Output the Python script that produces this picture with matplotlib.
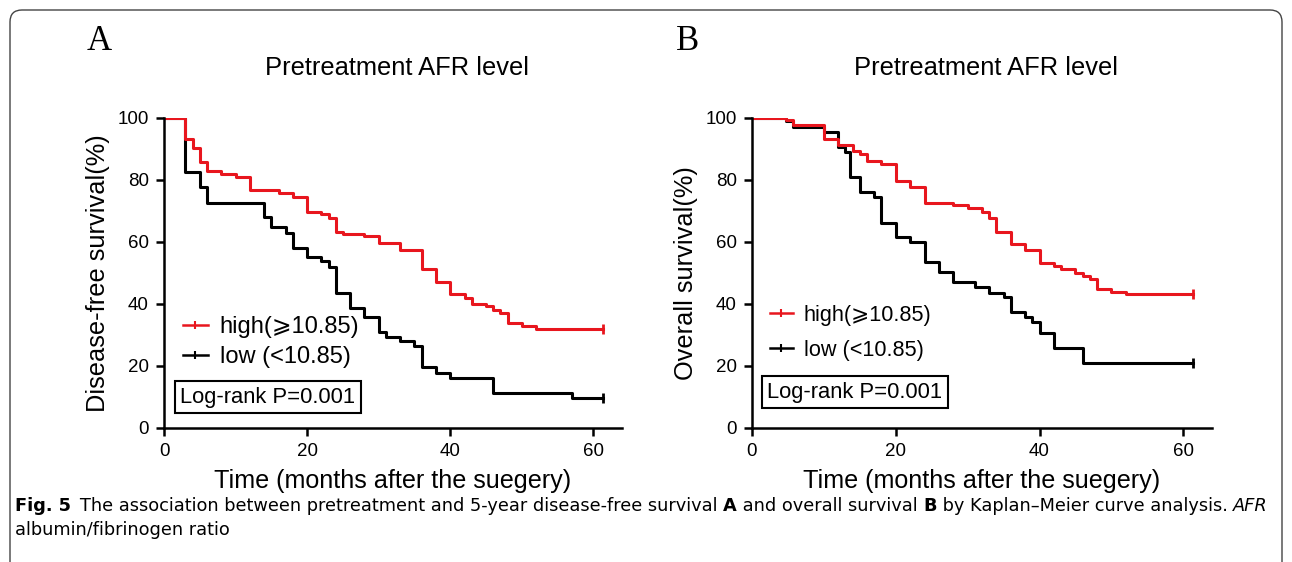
import numpy as np
import matplotlib.pyplot as plt
from matplotlib.lines import Line2D
from matplotlib.patches import FancyBboxPatch
from matplotlib.transforms import IdentityTransform

# Kaplan-Meier steps (months, survival %)
dfs_high_t = [0, 3, 4, 5, 6, 8, 10, 12, 16, 18, 20, 22, 23, 24, 25, 28, 30, 33, 36, 38, 40, 42, 43, 45, 46, 47, 48, 50, 52, 61.3]
dfs_high_s = [100, 93.1, 90.2, 85.9, 83.0, 81.9, 80.9, 76.8, 75.9, 74.6, 69.6, 69.0, 67.8, 63.2, 62.6, 61.9, 59.6, 57.4, 51.2, 47.2, 43.1, 42.0, 40.0, 39.2, 38.2, 37.0, 34.0, 32.9, 31.8, 31.8]
dfs_low_t = [0, 3, 5, 6, 14, 15, 17, 18, 20, 22, 23, 24, 26, 28, 30, 31, 33, 35, 36, 38, 40, 46, 57, 61.3]
dfs_low_s = [100, 82.7, 77.6, 72.7, 68.0, 64.9, 62.8, 58.2, 55.2, 53.8, 51.9, 43.4, 38.6, 35.7, 31.1, 29.5, 28.2, 26.5, 19.6, 17.8, 16.0, 11.2, 9.8, 9.8]

os_high_t = [0, 4.8, 5.7, 10, 12, 14, 15, 16, 18, 20, 22, 24, 28, 30, 32, 33, 34, 36, 38, 40, 42, 43, 45, 46, 47, 48, 50, 52, 61.3]
os_high_s = [100, 99.4, 97.7, 93.1, 91.3, 89.5, 88.4, 86.1, 85.2, 79.8, 77.8, 72.7, 71.9, 70.9, 69.8, 67.6, 63.3, 59.4, 57.4, 53.1, 52.3, 51.2, 50.1, 49.0, 48.0, 44.7, 44.0, 43.1, 43.1]
os_low_t = [0, 4.8, 5.7, 10, 12, 13, 13.7, 15, 17, 18, 20, 22, 24, 26, 28, 31, 33, 35, 36, 38, 39, 40, 42, 46, 61.3]
os_low_s = [100, 99.1, 97.2, 95.6, 90.5, 89.1, 81.1, 76.2, 74.6, 66.2, 61.7, 60.0, 53.5, 50.4, 47.2, 45.4, 43.7, 42.2, 37.5, 35.9, 34.3, 30.8, 25.8, 20.9, 20.9]

RED = '#e8161e'
FONT = ['Liberation Sans', 'DejaVu Sans']
plt.rcParams['font.family'] = FONT

W, H = 1292, 562
fig = plt.figure(figsize=(W / 100, H / 100), dpi=100)

# rounded frame around the figure
frame = FancyBboxPatch((10, -40), 1272, 552 + 40, boxstyle='round,pad=0,rounding_size=12',
                       transform=IdentityTransform(), fill=False, ec='#444444', lw=1.0)
fig.patches.append(frame)


def km_panel(left_px, right_px, high, low, ylabel, leg_xy, leg_size, leg_space,
             box_xy, letter, letter_x):
    ax = fig.add_axes([left_px / W, 1 - 428 / H, (right_px - left_px) / W, 310 / H])
    ax.step(low[0], low[1], where='post', color='black', lw=2.2)
    ax.step(high[0], high[1], where='post', color=RED, lw=2.2)
    # censor marks at the end of follow-up
    ax.plot(low[0][-1], low[1][-1], marker='|', ms=7, mew=2, color='black', clip_on=False)
    ax.plot(high[0][-1], high[1][-1], marker='|', ms=7, mew=2, color=RED, clip_on=False)

    ax.set_xlim(0, 64)
    ax.set_ylim(0, 100)
    ax.set_xticks([0, 20, 40, 60])
    ax.set_yticks([0, 20, 40, 60, 80, 100])
    for s in ['top', 'right']:
        ax.spines[s].set_visible(False)
    for s in ['left', 'bottom']:
        ax.spines[s].set_linewidth(1.8)
    ax.tick_params(width=1.8, length=6, labelsize=13.5, pad=5)
    ax.set_xlabel('Time (months after the suegery)', fontsize=18.1, labelpad=6)
    ax.set_ylabel(ylabel, fontsize=18.3, labelpad=5)

    handles = [Line2D([], [], color=RED, lw=1.8, marker='|', ms=6, mew=1.5),
               Line2D([], [], color='black', lw=1.8, marker='|', ms=6, mew=1.5)]
    ax.legend(handles, ['high(\u2a7e10.85)', 'low (<10.85)'], loc='upper left',
              bbox_to_anchor=leg_xy, frameon=False, handlelength=1.05,
              handletextpad=0.5, labelspacing=leg_space, borderaxespad=0, borderpad=0,
              prop={'family': FONT, 'size': leg_size})
    ax.text(box_xy[0], box_xy[1], 'Log-rank P=0.001', transform=ax.transAxes,
            fontsize=15.8, va='center', ha='left',
            bbox=dict(boxstyle='square,pad=0.25', fc='white', ec='black', lw=1.5))

    cx = (left_px + 233 / 458 * (right_px - left_px)) / W
    fig.text(cx, 1 - 68 / H, 'Pretreatment AFR level', fontsize=18.4, ha='center', va='center')
    fig.text(letter_x / W, 1 - 42 / H, letter, fontsize=25, ha='center', va='center',
             family='Liberation Serif')
    return ax


axA = km_panel(164, 622, (dfs_high_t, dfs_high_s), (dfs_low_t, dfs_low_s),
               'Disease-free survival(%)', (0.0415, 0.362), 17, 0.36,
               (0.035, 0.10), 'A', 99)
axB = km_panel(752, 1212, (os_high_t, os_high_s), (os_low_t, os_low_s),
               'Overall survival(%)', (0.039, 0.398), 15.6, 0.66,
               (0.033, 0.116), 'B', 688)

# caption with mixed bold / italic runs
renderer = fig.canvas.get_renderer()
CAP = ['DejaVu Sans']


def put_runs(x_px, y_px, runs, size=12.8):
    x = x_px
    for s, w, st in runs:
        t = fig.text(x / W, 1 - y_px / H, s, fontsize=size, weight=w, style=st,
                     family=CAP, va='baseline', ha='left')
        x += t.get_window_extent(renderer).width


put_runs(15, 511, [('Fig. 5', 'bold', 'normal'),
                   ('\u2002The association between pretreatment and 5-year disease-free survival ', 'normal', 'normal'),
                   ('A', 'bold', 'normal'),
                   (' and overall survival ', 'normal', 'normal'),
                   ('B', 'bold', 'normal'),
                   (' by Kaplan\u2013Meier curve analysis. ', 'normal', 'normal'),
                   ('AFR', 'normal', 'italic')])
put_runs(15, 535, [('albumin/fibrinogen ratio', 'normal', 'normal')])

fig.savefig('out.png', dpi=100)
